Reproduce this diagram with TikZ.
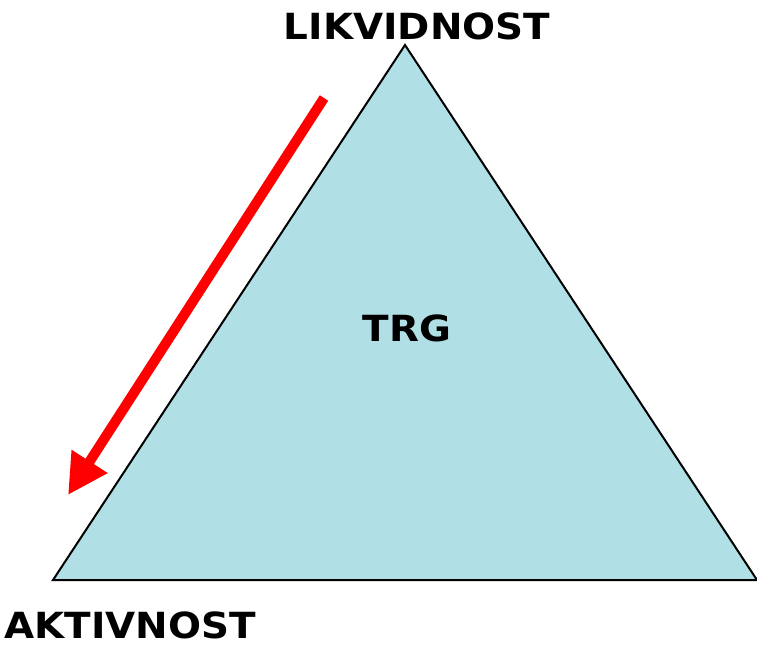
\documentclass[tikz,border=0pt]{standalone}
\usepackage{fontspec}
\setmainfont{DejaVu Sans}
\usetikzlibrary{arrows.meta,positioning}
\definecolor{trgfill}{HTML}{B0E0E6}

\begin{document}
\begin{tikzpicture}[x=1pt,y=-1pt]
\tikzstyle{label}=[font=\fontsize{36}{40}\selectfont\bfseries,inner sep=0pt,xscale=1.08]
\tikzstyle{flow}=[draw=red,line width=10pt,-{Triangle[length=40pt,width=40pt]}]

\useasboundingbox (0,0) rectangle (757,646);

\coordinate (top) at (405,45);
\coordinate (left) at (53,580);
\coordinate (right) at (757,580);
\coordinate (from) at (324,98);
\coordinate (to) at (68,495);

\path [draw=black,line width=2pt,fill=trgfill,line join=miter] (top) -- (left) -- (right) -- cycle;

\node [label] (likvidnost) at (417,26) {LIKVIDNOST};
\node [label] (trg) at (407,328) {TRG};
\node [label] (aktivnost) at (130,625) {AKTIVNOST};

\path [flow] (from) -- (to);
\end{tikzpicture}
\end{document}
